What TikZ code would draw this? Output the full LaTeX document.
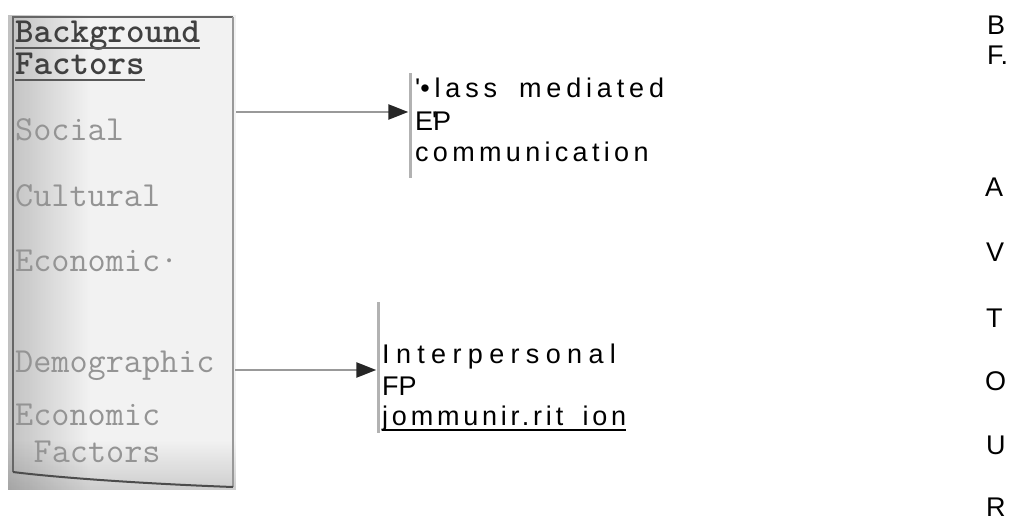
\documentclass[tikz,border=0pt]{standalone}
\usepackage{fontspec}
\setmainfont{Liberation Sans}
\usetikzlibrary{arrows.meta,fadings}
\begin{document}
\begin{tikzpicture}[x=1pt,y=-1pt,
  boxtext/.style={anchor=base west, inner sep=0pt, font=\ttfamily\fontsize{35.2}{36}\selectfont\addfontfeature{FakeBold=1.6}, text=black!42},
  boxhead/.style={anchor=base west, inner sep=0pt, font=\ttfamily\bfseries\fontsize{35.2}{36}\selectfont\addfontfeature{FakeBold=1.5}, text=black!75},
  headline/.style={draw=black!65, line width=2.5pt},
  sidetext/.style={anchor=base west, inner sep=0pt, font=\fontsize{27}{30}\selectfont, text=black},
  midtext/.style={anchor=base west, inner sep=0pt, font=\fontsize{27}{30}\selectfont, text=black},
  barbox/.style={fill=black!30, draw=none, minimum width=3pt, inner sep=0pt},
  conn/.style={draw=black!40, line width=2.5pt, -{Triangle[length=20pt,width=15pt,color=black!85]}}
]
\useasboundingbox (0,0) rectangle (1012,521);

% scanned box
\fill[black!5] (8,15) rectangle (236,490);
\fill[black, opacity=0.2, path fading=east] (8,15) rectangle (90,490);
\fill[black, opacity=0.15, path fading=north] (8,440) rectangle (236,490);
\draw[black!60, line width=2pt] (13,472) -- (13,17) -- (233,17);
\draw[black!40, line width=2pt] (233,17) -- (233,487);
\draw[black!70, line width=2pt] (13,472) .. controls (60,478) and (150,484) .. (233,487);

\node[boxhead] (h1) at (15,43) {Background};
\node[boxhead] (h2) at (15,75) {Factors};
\draw[headline] ([yshift=-5pt]h1.base west) -- ([yshift=-5pt]h1.base east);
\draw[headline] ([yshift=-5pt]h2.base west) -- ([yshift=-5pt]h2.base east);
\node[boxtext] (f1) at (15,141) {Social};
\node[boxtext] (f2) at (15,207) {Cultural};
\node[boxtext] (f3) at (15,272) {Economic·};
\node[boxtext] (f4) at (15,372) {Demographic};
\node[boxtext] (f5) at (15,425) {Economic};
\node[boxtext] (f6) at (33.5,462) {Factors};

% bars
\node[barbox, minimum height=105pt] (bar1) at (410,125.5) {};
\node[barbox, minimum height=131pt] (bar2) at (378,367.5) {};

% connectors
\coordinate (a1s) at (236,112);
\coordinate (a2s) at (235,370);
\draw[conn] (a1s) -- (a1s -| bar1.west);
\draw[conn] (a2s) -- (a2s -| bar2.west);

% middle texts
\node[midtext] (m1) at (415,98) {\addfontfeature{LetterSpace=18}\textquotesingle•lass\hspace{0.35em} mediated};
\node[midtext] (m2) at (415,131) {E\rlap{\kern-1pt\textquotesingle}P};
\node[midtext] (m3) at (415,162) {\addfontfeature{LetterSpace=16}communication};
\node[midtext] (n1) at (382,363) {\addfontfeature{LetterSpace=23.5}Interpersonal};
\node[midtext] (n2) at (382,395) {FP};
\node[midtext] (n3) at (382,425) {\addfontfeature{LetterSpace=14}jommunir.rit\hspace{0.3em} ion};
\draw[black, line width=1.5pt] ([yshift=-5pt]n3.base west) -- ([yshift=-5pt]n3.base east);

% right column letters
\node[sidetext] (r1) at (987,35) {B};
\node[sidetext] (r2) at (987,65) {F.};
\node[sidetext] (r3) at (985,197) {A};
\node[sidetext] (r4) at (986,262) {V};
\node[sidetext] (r5) at (986,327) {T};
\node[sidetext] (r6) at (985,390) {O};
\node[sidetext] (r7) at (986,454) {U};
\node[sidetext] (r8) at (986,516) {R};
\end{tikzpicture}
\end{document}
